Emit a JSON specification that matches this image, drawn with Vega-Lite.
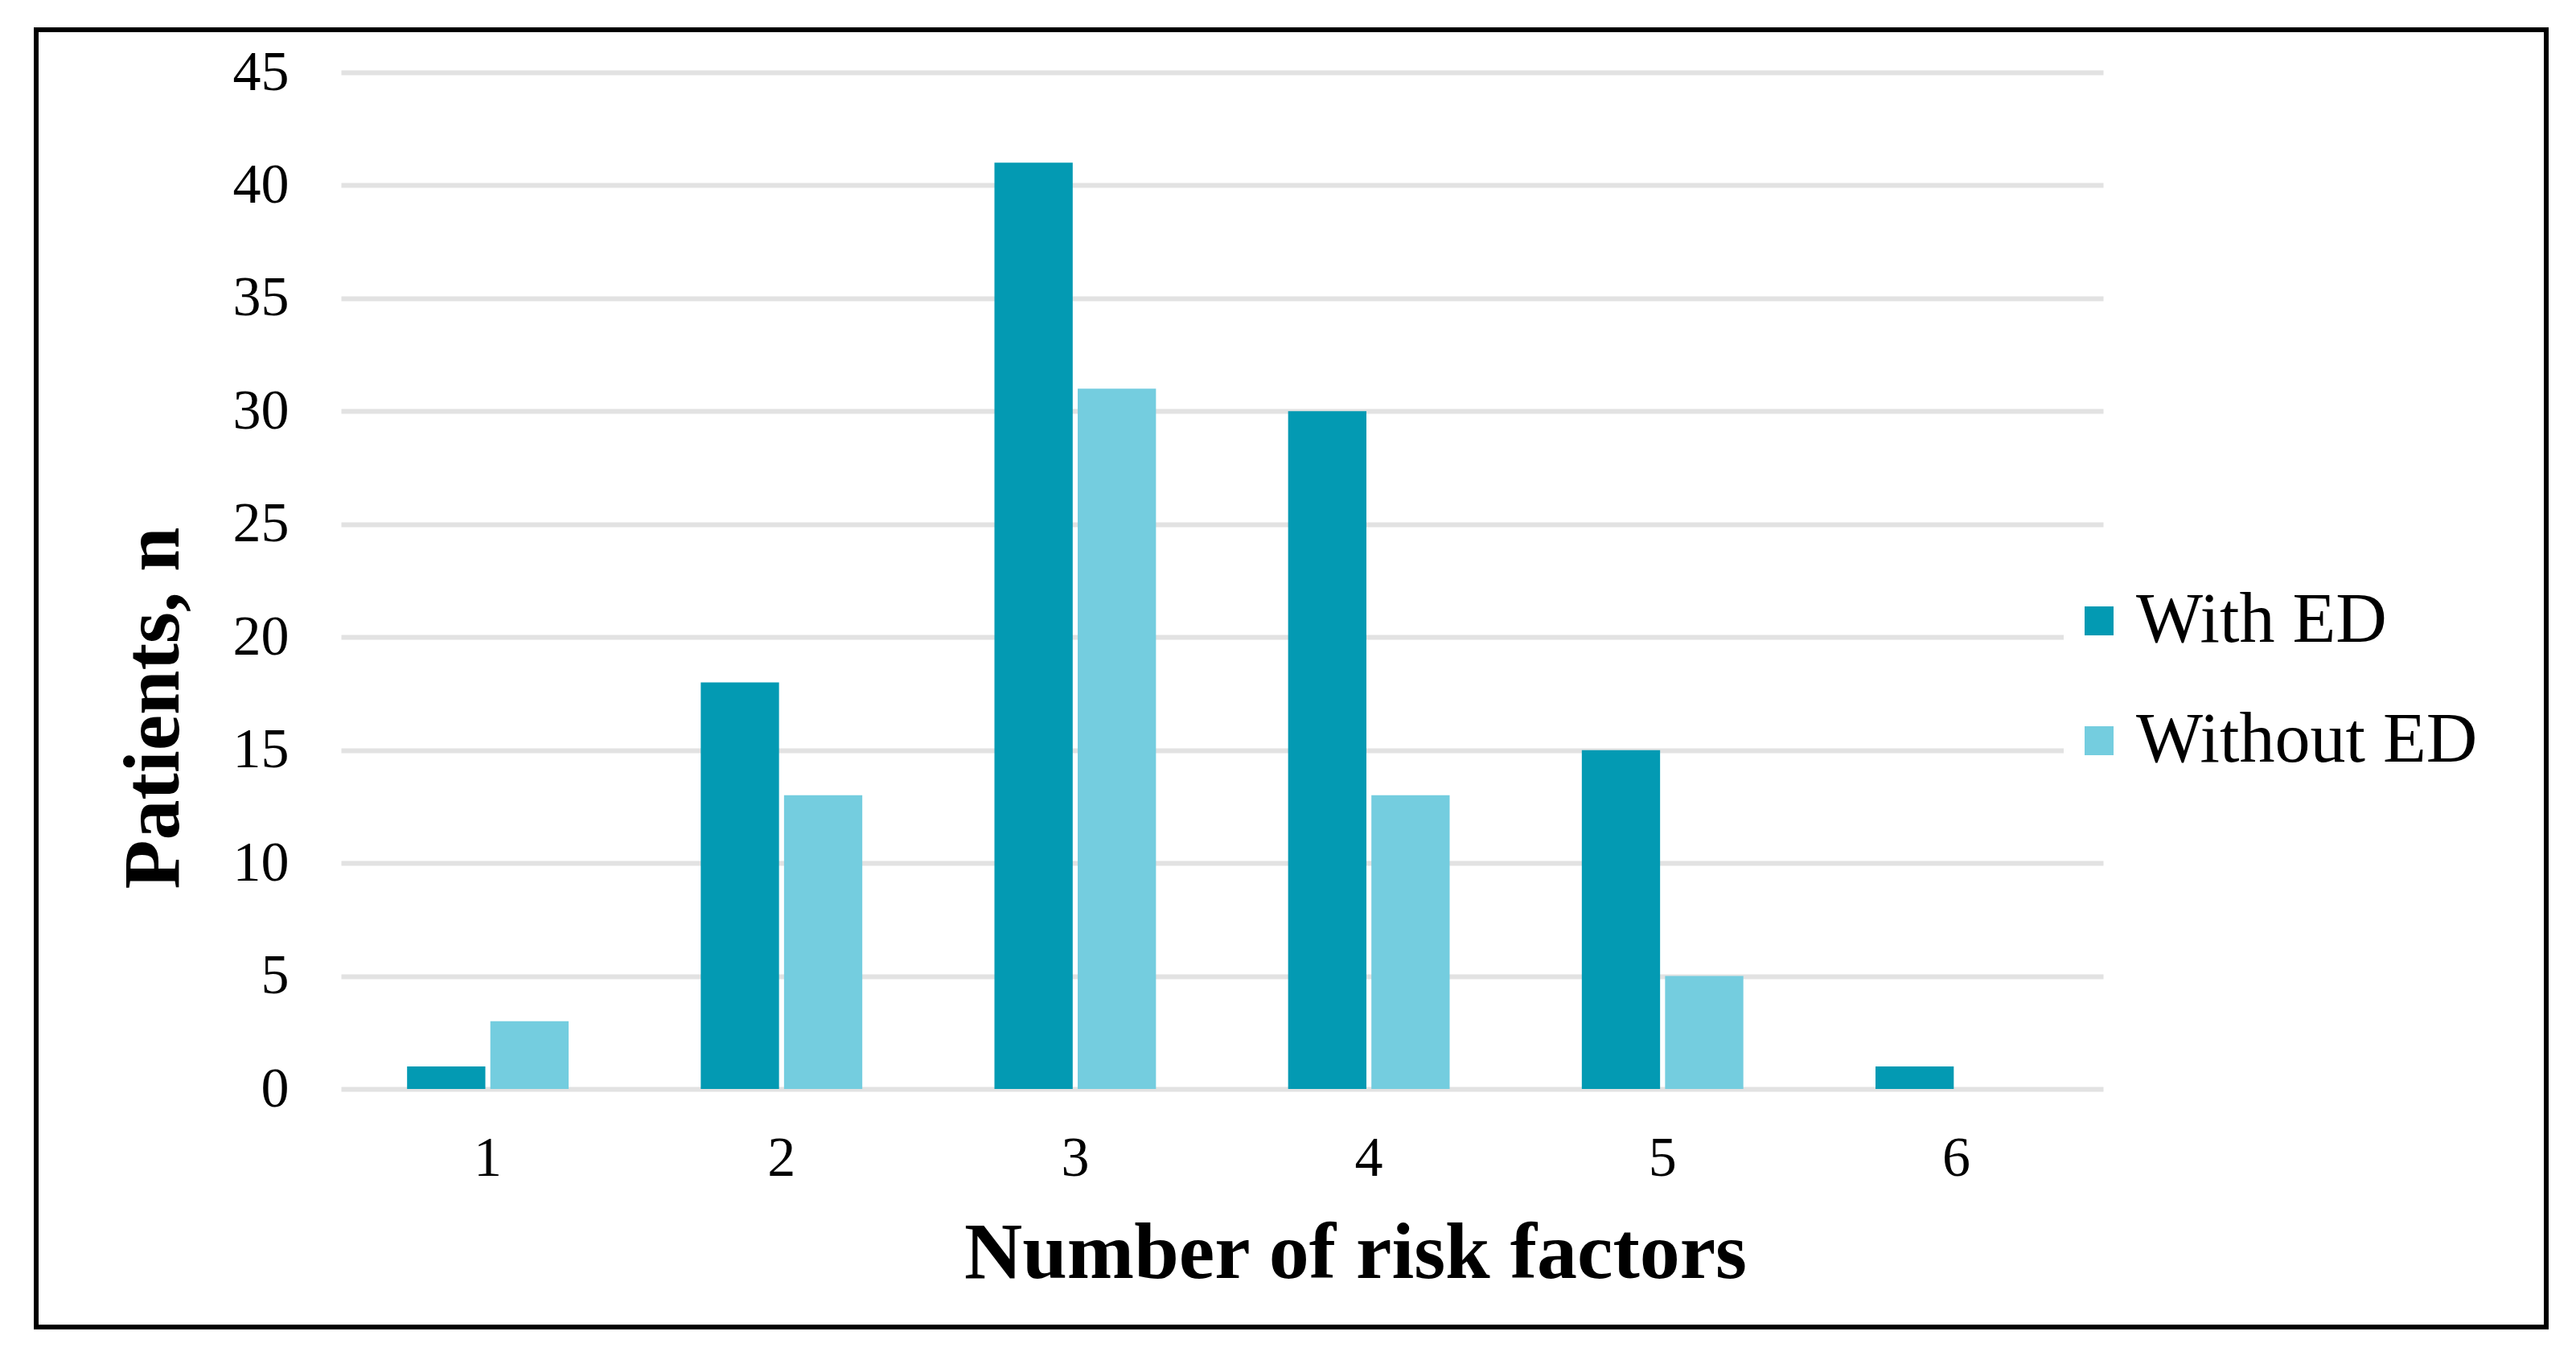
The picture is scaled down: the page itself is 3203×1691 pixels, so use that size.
{
  "$schema": "https://vega.github.io/schema/vega-lite/v6.json",
  "width": 3121,
  "height": 1613,
  "autosize": {"type": "none"},
  "padding": {"left": 45, "top": 37, "right": 37, "bottom": 41},
  "background": "white",
  "data": {
    "values": [
      {"factors": "1", "group": "With ED", "n": 1},
      {"factors": "1", "group": "Without ED", "n": 3},
      {"factors": "2", "group": "With ED", "n": 18},
      {"factors": "2", "group": "Without ED", "n": 13},
      {"factors": "3", "group": "With ED", "n": 41},
      {"factors": "3", "group": "Without ED", "n": 31},
      {"factors": "4", "group": "With ED", "n": 30},
      {"factors": "4", "group": "Without ED", "n": 13},
      {"factors": "5", "group": "With ED", "n": 15},
      {"factors": "5", "group": "Without ED", "n": 5},
      {"factors": "6", "group": "With ED", "n": 1},
      {"factors": "6", "group": "Without ED", "n": 0}
    ]
  },
  "mark": {"type": "bar"},
  "encoding": {
    "x": {
      "field": "factors",
      "type": "nominal",
      "sort": null,
      "scale": {"range": [379, 2570], "paddingInner": 0.45, "paddingOuter": 0.225},
      "axis": {
        "title": "Number of risk factors",
        "labelAngle": 0,
        "offset": -296,
        "labelPadding": 52,
        "titleX": 1640,
        "titleY": 234,
        "titleBaseline": "alphabetic",
        "titleAnchor": null,
        "titleAlign": "center"
      }
    },
    "xOffset": {
      "field": "group",
      "type": "nominal",
      "scale": {"paddingInner": 0.06, "paddingOuter": 0}
    },
    "y": {
      "field": "n",
      "type": "quantitative",
      "scale": {"domain": [0, 45], "nice": false, "range": [1317, 53]},
      "axis": {
        "title": "Patients, n",
        "values": [0, 5, 10, 15, 20, 25, 30, 35, 40, 45],
        "grid": true,
        "offset": -379,
        "labelPadding": 65,
        "titleX": -203,
        "titleY": 843,
        "titleBaseline": "alphabetic",
        "titleAnchor": null,
        "titleAlign": "center",
        "titleAngle": -90
      }
    },
    "color": {
      "field": "group",
      "type": "nominal",
      "scale": {"domain": ["With ED", "Without ED"], "range": ["#039AB3", "#74CDDF"]},
      "legend": {
        "title": null,
        "orient": "none",
        "legendX": 2521,
        "legendY": 691,
        "fillColor": "white",
        "padding": 0,
        "rowPadding": 61,
        "symbolType": "square",
        "symbolSize": 1296,
        "symbolStrokeWidth": 0,
        "labelOffset": 2,
        "labelFontSize": 88,
        "labelFont": "Liberation Serif",
        "labelColor": "black",
        "labelLimit": 0
      }
    }
  },
  "config": {
    "view": {"stroke": "black", "strokeWidth": 6, "fill": "white"},
    "axis": {
      "domain": false,
      "ticks": false,
      "tickSize": 0,
      "labelFont": "Liberation Serif",
      "labelFontSize": 70,
      "labelColor": "black",
      "titleFont": "Liberation Serif",
      "titleFontSize": 100,
      "titleFontWeight": "bold",
      "titleColor": "black",
      "gridColor": "#e2e2e2",
      "gridWidth": 6
    },
    "axisX": {"grid": false}
  }
}
